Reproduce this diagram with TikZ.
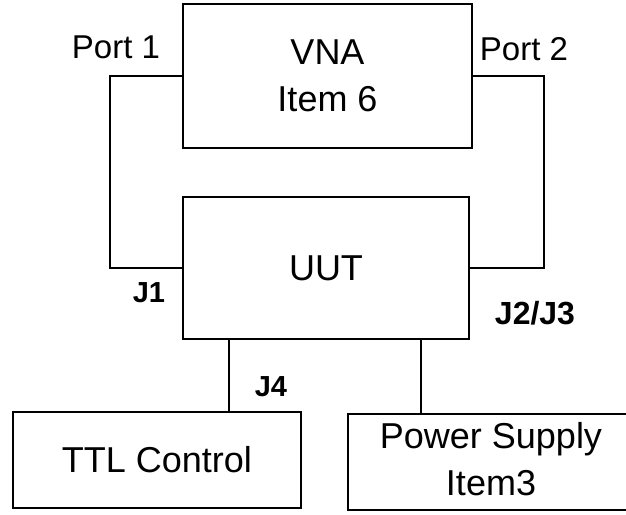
\documentclass[tikz,border=0pt]{standalone}
\usepackage{fontspec}
\setmainfont{Liberation Sans}
\begin{document}
\begin{tikzpicture}[x=1pt,y=-1pt,
  box/.style={draw=black,line width=2.4pt,fill=white,inner sep=0pt,align=center},
  wire/.style={draw=black,line width=2.4pt},
  big/.style={font=\fontsize{36}{47}\selectfont},
  portlbl/.style={font=\fontsize{33}{40}\selectfont},
  jlbl/.style={font=\fontsize{29}{34}\selectfont\bfseries}]
\useasboundingbox (0,0) rectangle (626,514);
\clip (0,0) rectangle (626,514);
\fill[white] (0,0) rectangle (626,514);
\node[box,big,minimum width=289pt,minimum height=144pt] (vna) at (327.5,76) {VNA\\Item 6};
\node[box,big,minimum width=286pt,minimum height=142pt] (uut) at (326,268) {UUT};
\node[box,big,minimum width=288pt,minimum height=96pt] (ttl) at (157,460) {TTL Control};
\node[box,minimum width=300pt,minimum height=96pt] (ps) at (498,462) {};
\node[big,align=center,inner sep=0pt] (pstext) at (491,459) {Power Supply\\Item3};
\coordinate (j4x) at (229,0);
\coordinate (psx) at (421,0);
\draw[wire] (vna.west) -- ++(-72,0) |- (uut.west);
\draw[wire] (vna.east) -- ++(71,0) |- (uut.east);
\draw[wire] (uut.south -| j4x) -- (ttl.north -| j4x);
\draw[wire] (uut.south -| psx) -- (ps.north -| psx);
\node[portlbl] (p1) at (116,47) {Port 1};
\node[portlbl] (p2) at (524,49) {Port 2};
\node[jlbl] (j1) at (149,293) {J1};
\node[jlbl,font=\fontsize{32}{36}\selectfont\bfseries] (j23) at (535,313) {J2/J3};
\node[jlbl] (j4) at (271,387) {J4};
\end{tikzpicture}
\end{document}
